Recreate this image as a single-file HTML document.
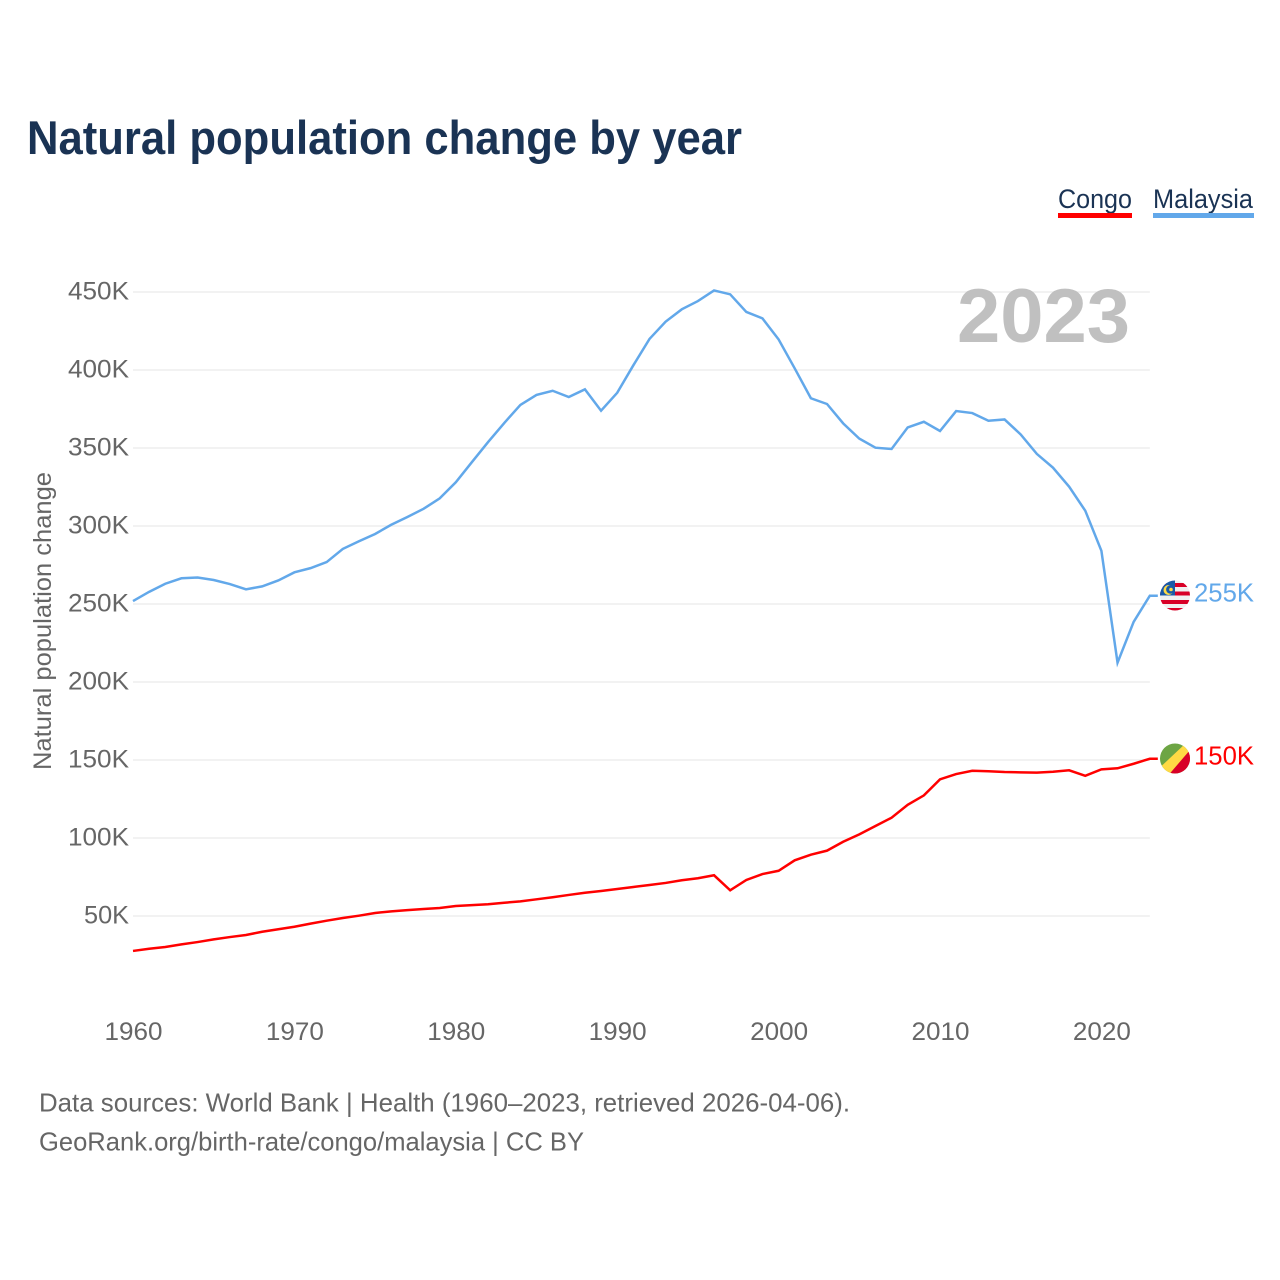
<!DOCTYPE html>
<html lang="en">
<head>
<meta charset="utf-8">
<title>Natural population change by year</title>
<style>
html,body{margin:0;padding:0;background:#fff;}
body{width:1280px;height:1280px;overflow:hidden;}
svg{display:block;font-family:"Liberation Sans",sans-serif;}
</style>
</head>
<body>
<svg id="chart" width="1280" height="1280" viewBox="0 0 1280 1280" xmlns="http://www.w3.org/2000/svg">
  <defs>
    <clipPath id="flag-clip-my"><circle cx="1175" cy="595.5" r="15"/></clipPath>
    <clipPath id="flag-clip-cg"><circle cx="1175" cy="758.5" r="15"/></clipPath>
  </defs>
  <rect width="1280" height="1280" fill="#fff"/>
  <text x="27" y="154" font-size="47.5" font-weight="700" fill="#1a3354" textLength="715" lengthAdjust="spacingAndGlyphs">Natural population change by year</text>

  <g>
    <text x="1058" y="208" font-size="27" fill="#1a3354" textLength="74" lengthAdjust="spacingAndGlyphs">Congo</text>
    <rect x="1058" y="213" width="74" height="5" fill="#ff0000"/>
  </g>
  <g>
    <text x="1153" y="208" font-size="27" fill="#1a3354" textLength="100" lengthAdjust="spacingAndGlyphs">Malaysia</text>
    <rect x="1153" y="213" width="101" height="5" fill="#62a8ea"/>
  </g>

  <g id="grid"></g>
  <g id="y-ticks"></g>
  <g id="x-ticks"></g>

  <text transform="translate(51 621) rotate(-90)" text-anchor="middle" font-size="25" fill="#666" textLength="298" lengthAdjust="spacingAndGlyphs">Natural population change</text>
  <text x="957" y="342" font-size="76" font-weight="700" fill="#c0c0c0" textLength="173" lengthAdjust="spacingAndGlyphs">2023</text>

  <g id="series"></g>

  <g clip-path="url(#flag-clip-my)">
    <rect x="1160" y="580" width="30" height="31" fill="#f0f0f0"/>
    <rect x="1160" y="583" width="30" height="4" fill="#d80027"/>
    <rect x="1160" y="591.5" width="30" height="4" fill="#d80027"/>
    <rect x="1160" y="600" width="30" height="4" fill="#d80027"/>
    <rect x="1160" y="608" width="30" height="3" fill="#d80027"/>
    <rect x="1160" y="580" width="15" height="15.5" fill="#1a5aa8"/>
    <circle cx="1168.5" cy="590" r="5" fill="#ffda44"/>
    <circle cx="1170.3" cy="589.5" r="4.2" fill="#1a5aa8"/>
    <circle cx="1171" cy="589.5" r="1.8" fill="#ffda44"/>
  </g>
  <g clip-path="url(#flag-clip-cg)">
    <rect x="1160" y="743" width="30" height="31" fill="#6da544"/>
    <polygon points="1153,774 1186,743 1195,743 1195,751 1169,778 1153,778" fill="#ffda44"/>
    <polygon points="1190,750 1190,778 1166,778" fill="#d80027"/>
  </g>

  <text id="label-my" x="1194" y="601.5" font-size="26" fill="#62a8ea" textLength="60" lengthAdjust="spacingAndGlyphs">255K</text>
  <text id="label-cg" x="1194" y="764.5" font-size="26" fill="#ff0000" textLength="60" lengthAdjust="spacingAndGlyphs">150K</text>

  <text x="39" y="1111.5" font-size="26" fill="#666" textLength="811" lengthAdjust="spacingAndGlyphs">Data sources: World Bank | Health (1960–2023, retrieved 2026-04-06).</text>
  <text x="39" y="1150.5" font-size="26" fill="#666" textLength="545" lengthAdjust="spacingAndGlyphs">GeoRank.org/birth-rate/congo/malaysia | CC BY</text>
</svg>
<script>
var startYear = 1960;
var yTickValues = [50, 100, 150, 200, 250, 300, 350, 400, 450];
var yTickLabels = ["50K", "100K", "150K", "200K", "250K", "300K", "350K", "400K", "450K"];
var xTickValues = [1960, 1970, 1980, 1990, 2000, 2010, 2020];
var xTickLabels = ["1960", "1970", "1980", "1990", "2000", "2010", "2020"];
var malaysiaValues = [251.9, 257.8, 263, 266.5, 267, 265.4, 262.8, 259.4, 261.3, 265.1,
  270.3, 273, 276.9, 285.3, 290.2, 294.9, 300.8, 305.8, 311, 317.7,
  328, 341, 353.8, 366, 377.6, 384, 386.7, 382.7, 387.6, 373.9,
  385.4, 403, 419.9, 431, 438.9, 444.2, 451, 448.5, 437.2, 433.1,
  419.6, 401, 381.9, 378.2, 365.8, 356, 350.2, 349.4, 363.2, 366.8,
  360.9, 373.7, 372.4, 367.5, 368.3, 358.7, 346.2, 337.4, 325.2, 309.8,
  284.1, 212.4, 238.6, 255.3];
var congoValues = [27.6, 29, 30.1, 31.8, 33.3, 35, 36.5, 37.8, 39.9, 41.5,
  43.1, 45.1, 47, 48.7, 50.2, 51.9, 53, 53.8, 54.5, 55.1,
  56.4, 57, 57.5, 58.5, 59.4, 60.7, 62, 63.5, 64.9, 66,
  67.3, 68.6, 69.9, 71.2, 72.9, 74.2, 76.1, 66.5, 73.1, 76.9,
  79, 85.7, 89.3, 91.9, 97.6, 102.3, 107.7, 113, 121.3, 127.3,
  137.6, 141, 143.1, 142.8, 142.3, 142.1, 141.9, 142.5, 143.4, 139.9,
  144, 144.7, 147.6, 150.8];

var NS = "http://www.w3.org/2000/svg";
function xScale(year) { return 133 + (year - 1960) * 16.14; }
function yScale(v) { return 916 - (v - 50) * 1.56; }

var gridGroup = document.getElementById("grid");
var yTickGroup = document.getElementById("y-ticks");
var xTickGroup = document.getElementById("x-ticks");
var seriesGroup = document.getElementById("series");

yTickValues.forEach(function (v, i) {
  var line = document.createElementNS(NS, "line");
  
  
  line.setAttribute("x1", xScale(1960));
  line.setAttribute("x2", xScale(2023));
  line.setAttribute("y1", yScale(v));
  line.setAttribute("y2", yScale(v));
  line.setAttribute("stroke", "#eeeeee");
  line.setAttribute("stroke-width", "1.5");
  gridGroup.appendChild(line);

  var label = document.createElementNS(NS, "text");
  
  
  label.setAttribute("x", 129);
  label.setAttribute("y", yScale(v) + 7.5);
  label.setAttribute("text-anchor", "end");
  label.setAttribute("font-size", "25");
  label.setAttribute("fill", "#666");
  label.setAttribute("textLength", yTickLabels[i].length === 4 ? "61" : "45");
  label.setAttribute("lengthAdjust", "spacingAndGlyphs");
  label.textContent = yTickLabels[i];
  yTickGroup.appendChild(label);
});

xTickValues.forEach(function (year, i) {
  var label = document.createElementNS(NS, "text");
  
  
  label.setAttribute("x", xScale(year) + 0.5);
  label.setAttribute("y", 1040);
  label.setAttribute("text-anchor", "middle");
  label.setAttribute("font-size", "25");
  label.setAttribute("fill", "#666");
  label.setAttribute("textLength", "58");
  label.setAttribute("lengthAdjust", "spacingAndGlyphs");
  label.textContent = xTickLabels[i];
  xTickGroup.appendChild(label);
});

function linePath(values) {
  var d = "";
  values.forEach(function (v, i) {
    d += (i ? "L" : "M") + xScale(startYear + i).toFixed(2) + " " + yScale(v).toFixed(2);
  });
  var last = values[values.length - 1];
  d += "L" + (xScale(startYear + values.length - 1) + 8).toFixed(2) + " " + yScale(last).toFixed(2);
  return d;
}

var malaysiaLine = document.createElementNS(NS, "path");


malaysiaLine.setAttribute("d", linePath(malaysiaValues));
malaysiaLine.setAttribute("fill", "none");
malaysiaLine.setAttribute("stroke", "#62a8ea");
malaysiaLine.setAttribute("stroke-width", "2.5");
seriesGroup.appendChild(malaysiaLine);

var congoLine = document.createElementNS(NS, "path");


congoLine.setAttribute("d", linePath(congoValues));
congoLine.setAttribute("fill", "none");
congoLine.setAttribute("stroke", "#ff0000");
congoLine.setAttribute("stroke-width", "2.5");
seriesGroup.appendChild(congoLine);
</script>
</body>
</html>
